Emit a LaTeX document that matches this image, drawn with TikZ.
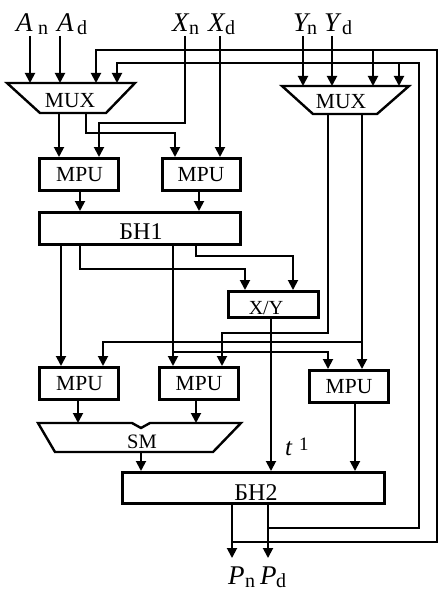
\documentclass[tikz,border=0pt]{standalone}
\usepackage{fontspec}
\setmainfont{Liberation Serif}
\usetikzlibrary{arrows.meta,calc}
\begin{document}
\begin{tikzpicture}[x=1pt,y=-1pt,
  wire/.style={line width=1.9pt},
  arr/.style={wire,-{Triangle[width=10pt,length=10pt]}},
  box/.style={draw,line width=3pt,inner sep=0pt},
  shp/.style={inner sep=0pt,outer sep=0pt},
  edge/.style={line width=2.4pt,line join=miter},
  tx/.style={inner sep=0pt,anchor=base,font=\fontsize{21.5}{21.5}\selectfont},
  big/.style={inner sep=0pt,anchor=base west,font=\fontsize{27}{27}\selectfont\itshape},
  sub/.style={inner sep=0pt,anchor=base west,font=\fontsize{20}{20}\selectfont},
]
\path[fill=white,use as bounding box] (0,0) rectangle (439,591);

% ---- multiplexers and adder (trapezoids) ----
\node[shp,minimum width=128pt,minimum height=30pt] (mux1) at (71,98) {};
\draw[edge] (mux1.north west) -- (mux1.north east) -- ([xshift=-29pt]mux1.south east)
  -- ([xshift=33pt]mux1.south west) -- cycle;
\node[tx] (mux1t) at (70,107) {MUX};

\node[shp,minimum width=127pt,minimum height=28pt] (mux2) at (345.5,100) {};
\draw[edge] (mux2.north west) -- (mux2.north east) -- ([xshift=-32pt]mux2.south east)
  -- ([xshift=31pt]mux2.south west) -- cycle;
\node[tx] (mux2t) at (341,109) {MUX};

\node[shp,minimum width=203pt,minimum height=29pt] (sm) at (139.5,437.5) {};
\draw[edge] (sm.north west) -- (132,423) -- (141,428) -- (150,423) -- (sm.north east)
  -- ([xshift=-28pt]sm.south east) -- ([xshift=17pt]sm.south west) -- cycle;
\node[tx,font=\fontsize{20.5}{20.5}\selectfont] (smt) at (142,448) {SM};

% ---- blocks ----
\node[box,minimum width=79pt,minimum height=32pt] (mpu1) at (79,174.5) {};
\node[tx] (mpu1t) at (79.5,181) {MPU};
\node[box,minimum width=78pt,minimum height=32pt] (mpu2) at (201.5,174.5) {};
\node[tx] (mpu2t) at (201,181) {MPU};
\node[box,minimum width=201pt,minimum height=32pt] (bh1) at (140,228.5) {};
\node[tx,font=\fontsize{24}{24}\selectfont] (bh1t) at (141,239) {БН1};
\node[box,minimum width=90pt,minimum height=26pt] (xy) at (273.5,304.5) {};
\node[tx,font=\fontsize{20}{20}\selectfont] (xyt) at (266,314.5) {X/Y};
\node[box,minimum width=79pt,minimum height=32pt] (mpu3) at (79,383.5) {};
\node[tx] (mpu3t) at (79.5,390) {MPU};
\node[box,minimum width=79pt,minimum height=32pt] (mpu4) at (199,383.5) {};
\node[tx] (mpu4t) at (199,390) {MPU};
\node[box,minimum width=79pt,minimum height=32pt] (mpu5) at (349,386.5) {};
\node[tx] (mpu5t) at (349,393) {MPU};
\node[box,minimum width=262pt,minimum height=31pt] (bh2) at (253.5,488) {};
\node[tx,font=\fontsize{24}{24}\selectfont] (bh2t) at (256,500) {БН2};

% ---- signal names ----
\node[big] (lAn) at (16,32) {A};  \node[sub] (lAns) at (38,35) {n};
\node[big] (lAd) at (57,32) {A};  \node[sub] (lAds) at (77,35) {d};
\node[big] (lXn) at (172,32) {X}; \node[sub] (lXns) at (189,35) {n};
\node[big] (lXd) at (208,32) {X}; \node[sub] (lXds) at (225,35) {d};
\node[big] (lYn) at (293,32) {Y}; \node[sub] (lYns) at (307,35) {n};
\node[big] (lYd) at (324,32) {Y}; \node[sub] (lYds) at (342,35) {d};
\node[big] (lPn) at (228,584) {P}; \node[sub] (lPns) at (245,587) {n};
\node[big] (lPd) at (260,584) {P}; \node[sub] (lPds) at (276,587) {d};
\node[inner sep=0pt,anchor=base west] (tlab) at (285,455)
  {\fontsize{25}{25}\selectfont\itshape t\hspace{7pt}\raisebox{5pt}{\fontsize{19}{19}\selectfont\upshape 1}};

% ---- input and output ends ----
\coordinate (cAn) at (30,36);
\coordinate (cAd) at (60,36);
\coordinate (cXn) at (185,36);
\coordinate (cXd) at (220,36);
\coordinate (cYn) at (303,36);
\coordinate (cYd) at (332,36);
\coordinate (oPn) at (232,558);
\coordinate (oPd) at (268,558);

% ---- connectors ----
\draw[arr] (cAn) -- (mux1.north -| cAn);
\draw[arr] (cAd) -- (mux1.north -| cAd);
\draw[arr] (cXn) |- (99,123) -- (mpu1.north -| 99,0);
\draw[arr] (cXd) -- (mpu2.north -| cXd);
\draw[arr] (cYn) -- (mux2.north -| cYn);
\draw[arr] (cYd) -- (mux2.north -| cYd);

\draw[arr] (mux1.south -| 59,0) -- (mpu1.north -| 59,0);
\draw[arr] (mux1.south -| 86,0) |- (175,133) -- (mpu2.north -| 175,0);
\draw[arr] (mpu1.south -| 80,0) -- (bh1.north -| 80,0);
\draw[arr] (mpu2.south -| 199,0) -- (bh1.north -| 199,0);

\draw[arr] (bh1.south -| 61,0) -- (mpu3.north -| 61,0);
\draw[arr] (bh1.south -| 80,0) |- (245,269) -- (xy.north -| 245,0);
\draw[arr] (bh1.south -| 173,0) -- (mpu4.north -| 173,0);
\draw[arr] (bh1.south -| 173,0) |- (328,352) -- (mpu5.north -| 328,0);
\draw[arr] (bh1.south -| 196,0) |- (293,256) -- (xy.north -| 293,0);
\draw[arr] (xy.south -| 271,0) -- (bh2.north -| 271,0);

\draw[arr] (mux2.south -| 328,0) |- (222,333) -- (mpu4.north -| 222,0);
\draw[arr] (mux2.south -| 362,0) -- (mpu5.north -| 362,0);
\draw[arr] (mux2.south -| 362,0) |- (103,342) -- (mpu3.north -| 103,0);

\draw[arr] (mpu3.south -| 78,0) -- (sm.north -| 78,0);
\draw[arr] (mpu4.south -| 196,0) -- (sm.north -| 196,0);
\draw[arr] (sm.south -| 141,0) -- (bh2.north -| 141,0);
\draw[arr] (mpu5.south -| 355,0) -- (bh2.north -| 355,0);

% outputs and feedback to both multiplexers
\draw[arr] (bh2.south -| oPn) -- (oPn);
\draw[arr] (bh2.south -| oPn) |- (437,542) |- (96,50) -- (mux1.north -| 96,0);
\draw[arr] (bh2.south -| oPn) |- (437,542) |- (373,50) -- (mux2.north -| 373,0);
\draw[arr] (bh2.south -| oPd) -- (oPd);
\draw[arr] (bh2.south -| oPd) |- (419,528) |- (117,63) -- (mux1.north -| 117,0);
\draw[arr] (bh2.south -| oPd) |- (419,528) |- (399,63) -- (mux2.north -| 399,0);
\end{tikzpicture}
\end{document}
